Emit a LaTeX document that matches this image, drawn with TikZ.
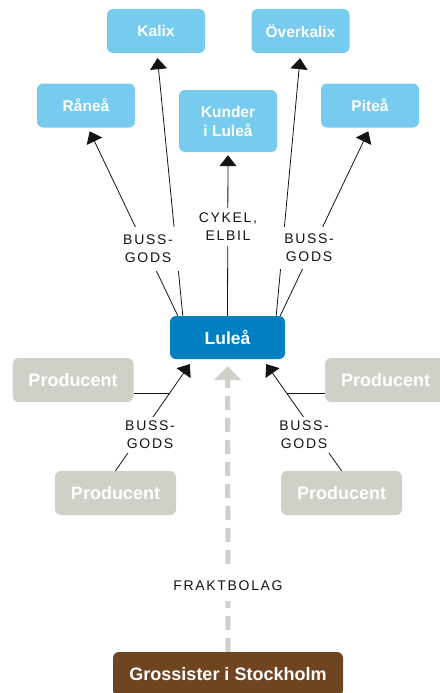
\documentclass[tikz,border=0pt]{standalone}
\usepackage{fontspec}
\setmainfont{Liberation Sans}
\newfontfamily\labelfont[LetterSpace=12]{Liberation Sans}
\usetikzlibrary{arrows.meta,calc}

\definecolor{skyblue}{RGB}{118,203,239}
\definecolor{luleablue}{RGB}{0,128,192}
\definecolor{prodgray}{RGB}{208,207,200}
\definecolor{woodbrown}{RGB}{111,68,33}
\definecolor{inkblack}{RGB}{20,20,20}

\begin{document}
\begin{tikzpicture}[x=1pt,y=-1pt,
  box/.style={rounded corners=6pt, text=white, align=center, inner sep=0pt,
    minimum height=44pt},
  town/.style={box, fill=skyblue, minimum width=98pt,
    font=\bfseries\fontsize{15.5}{19}\selectfont},
  hub/.style={box, fill=luleablue, minimum width=115pt, minimum height=43pt,
    font=\bfseries\fontsize{17.5}{21}\selectfont},
  producer/.style={box, fill=prodgray, minimum width=121pt,
    font=\bfseries\fontsize{18}{22}\selectfont},
  wholesale/.style={box, fill=woodbrown, minimum width=230pt,
    font=\bfseries\fontsize{18}{22}\selectfont},
  arr/.style={draw=inkblack, line width=0.8pt,
    -{Triangle[width=17pt,length=11pt]}},
  plain/.style={draw=inkblack, line width=0.8pt},
  freight/.style={draw=prodgray, line width=5pt, dash pattern=on 14pt off 8pt,
    -{Triangle[width=27pt,length=14pt]}},
  lab/.style={fill=white, text=inkblack, align=center, inner sep=0pt,
    font=\labelfont\fontsize{14}{18}\selectfont}
]
\useasboundingbox (0,0) rectangle (439,693);

% destinations
\node[town] (kalix)     at (156,31)    {Kalix};
\node[town] (overkalix) at (300.5,31)  {Överkalix};
\node[town] (rane)      at (86,105.5)  {Råneå};
\node[town, minimum height=62pt] (kunder) at (228,121) {Kunder\\i Luleå};
\node[town] (pitea)     at (370,105.5) {Piteå};

% hub
\node[hub] (lulea) at (227.5,337.5) {Luleå};

% producers
\node[producer] (prodtl) at (73,380)    {Producent};
\node[producer] (prodtr) at (385.5,380) {Producent};
\node[producer] (prodbl) at (115.5,493) {Producent};
\node[producer] (prodbr) at (341.5,493) {Producent};

% wholesalers
\node[wholesale] (gross) at (228,674) {Grossister i Stockholm};

% outgoing deliveries
\draw[arr, shorten >=4pt] ([xshift=8pt]lulea.north west)   -- ([xshift=2pt]rane.south);
\draw[arr, shorten >=5pt] ([xshift=13pt]lulea.north west)  -- ([xshift=1pt]kalix.south);
\draw[arr, shorten >=3pt] (lulea.north) -- (kunder.south);
\draw[arr, shorten >=5pt] ([xshift=-9pt]lulea.north east)  -- (overkalix.south);
\draw[arr, shorten >=4pt] ([xshift=-5pt]lulea.north east)  -- (pitea.south);

% incoming from producers
\coordinate (inl) at ([xshift=23.5pt]lulea.south west);
\coordinate (inr) at ([xshift=-22.5pt]lulea.south east);
\draw[arr, shorten >=6pt] (prodbl.north) -- (inl);
\draw[arr, shorten >=6pt] (prodbr.north) -- (inr);
\coordinate (joinl) at ($(prodbl.north)!0.696!(inl)$);
\coordinate (joinr) at ($(prodbr.north)!0.696!(inr)$);
\draw[plain] (prodtl.east |- joinl) -- (joinl);
\draw[plain] (prodtr.west |- joinr) -- (joinr);

% freight from Stockholm
\draw[freight, shorten >=7pt] (gross.north) -- (lulea.south);

% transport labels
\node[lab, minimum width=66pt, minimum height=44pt] (bgul) at (148,249) {BUSS-\\GODS};
\node[lab, minimum width=66pt, minimum height=42pt] (bgur) at (309,248) {BUSS-\\GODS};
\node[lab, minimum height=38pt] (cykel) at (228,227) {CYKEL,\\ELBIL};
\node[lab, minimum width=56pt, minimum height=36pt] (bgll) at (150,435) {BUSS-\\GODS};
\node[lab, minimum width=56pt, minimum height=36pt] (bglr) at (304,435) {BUSS-\\GODS};
\node[lab, minimum height=30pt] (frakt) at (228,586) {FRAKTBOLAG};
\end{tikzpicture}
\end{document}
